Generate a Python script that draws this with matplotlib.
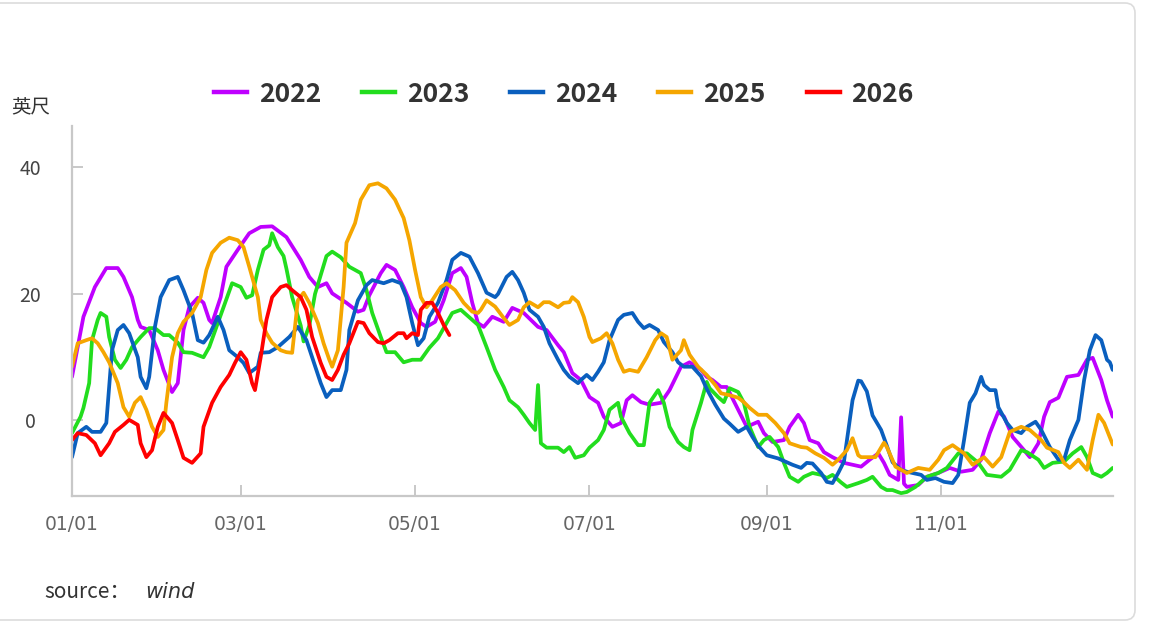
import matplotlib
matplotlib.use("Agg")
import matplotlib.pyplot as plt
from matplotlib.patches import FancyBboxPatch
from matplotlib.lines import Line2D

plt.rcParams['font.family'] = ['Noto Sans CJK SC', 'DejaVu Sans']

# ---- data (day of year, feet) ----
days_2022 = [0,4,8,12,16,18,21,23,24,27,30,32,35,37,39,41,44,46,48,49,52,54,58,62,66,70,75,80,83,86,89,91,96,100,102,104,108,110,113,116,119,122,124,127,130,133,136,138,140,142,144,147,151,154,158,163,166,170,172,175,178,181,184,186,189,192,194,196,199,202,206,209,213,216,220,222,224,227,229,233,236,240,242,245,249,251,254,256,258,261,263,266,270,273,276,279,282,284,286,289,290,291,292,296,299,303,307,311,315,318,321,324,326,329,333,335,338,340,342,345,348,352,355,357,360,362,364]
vals_2022 = [6.9,16.4,21.1,24.1,24.1,22.7,19.5,15.9,14.8,14.3,11.1,8.0,4.5,5.9,14.3,17.9,19.4,18.6,15.9,15.4,19.5,24.3,27.0,29.6,30.6,30.7,29.0,25.4,22.7,21.1,21.7,20.1,18.6,17.2,17.5,19.8,23.3,24.6,23.8,21.1,17.9,15.4,14.8,15.6,19.0,23.3,24.1,22.7,18.6,15.4,14.8,16.4,15.6,17.8,17.0,14.8,14.3,11.9,10.8,7.5,6.4,3.7,2.8,0.6,-1.0,-0.4,3.2,4.0,2.9,2.5,2.8,4.8,8.5,9.2,8.0,6.9,6.4,5.3,5.3,1.7,-1.0,-0.2,-2.0,-3.4,-3.1,-1.0,0.9,-0.4,-3.1,-3.6,-5.0,-5.8,-6.7,-7.0,-7.3,-6.2,-5.2,-6.7,-8.6,-9.4,0.5,-10.0,-10.5,-10.2,-8.9,-8.3,-7.5,-8.1,-7.8,-6.2,-2.0,1.4,0.6,-2.6,-4.7,-5.8,-3.6,0.6,2.9,3.6,6.9,7.2,9.6,9.9,6.4,3.2,0.6]

days_2023 = [0,3,4,6,7,9,10,12,13,15,17,19,21,24,27,29,32,34,37,39,42,46,48,51,53,56,59,61,63,65,67,69,70,72,74,75,77,80,81,83,85,87,89,91,94,97,101,103,105,108,110,113,116,119,122,125,128,131,133,136,138,142,145,148,151,153,156,158,160,162,163,164,166,170,172,174,176,179,181,184,186,188,191,192,195,198,200,202,205,207,209,212,214,216,217,220,222,223,226,228,230,233,235,237,240,242,244,247,249,251,254,256,259,262,264,266,269,271,275,278,280,283,285,287,290,292,295,299,303,306,310,313,317,320,325,328,332,334,338,340,343,347,350,353,355,357,360,362,364]
vals_2023 = [-2.0,0.6,2.0,5.9,12.7,15.9,17.0,16.4,13.2,9.6,8.3,9.6,11.6,13.2,14.6,14.6,13.5,13.5,12.3,10.8,10.7,10.0,11.6,15.4,17.9,21.7,21.1,19.4,19.8,23.8,27.0,27.7,29.6,27.4,26.0,24.0,19.5,15.0,12.5,15.0,20.0,23.0,26.0,26.7,25.8,24.3,23.3,20.6,17.0,13.2,10.8,10.8,9.2,9.6,9.6,11.5,13.0,15.4,17.0,17.5,16.7,15.1,11.6,8.0,5.3,3.2,2.1,0.9,-0.4,-1.5,5.6,-3.6,-4.3,-4.3,-5.0,-4.2,-5.9,-5.5,-4.3,-3.1,-1.5,1.7,2.8,0.6,-2.0,-3.9,-3.9,2.8,4.8,2.8,-1.0,-3.4,-4.2,-4.7,-1.5,2.8,6.1,5.1,3.7,2.9,5.1,4.5,2.8,-1.0,-4.2,-3.1,-2.6,-4.2,-6.7,-8.9,-9.7,-8.9,-8.3,-8.6,-9.1,-8.6,-9.8,-10.5,-9.9,-9.4,-8.9,-10.5,-11.0,-11.0,-11.5,-11.3,-10.5,-8.9,-8.3,-7.5,-5.2,-5.2,-6.7,-8.6,-8.9,-7.8,-4.7,-5.0,-6.2,-7.5,-6.7,-6.5,-5.2,-4.2,-5.8,-8.3,-8.9,-8.3,-7.5]

days_2024 = [0,2,5,7,10,12,13,14,16,18,20,23,24,26,27,29,31,34,37,39,42,44,46,48,51,53,55,58,60,62,65,66,69,72,74,76,79,82,84,87,89,91,94,96,97,100,103,105,109,112,115,117,119,121,123,125,128,131,133,136,139,142,145,148,149,152,154,156,158,160,163,165,167,170,172,174,177,178,180,182,184,186,188,191,193,196,198,200,202,205,207,210,212,214,217,220,222,225,228,230,233,236,238,240,243,247,250,252,255,257,259,262,264,266,268,270,271,273,275,276,278,280,283,285,287,290,292,294,297,299,302,305,308,310,312,314,316,318,319,321,323,324,327,329,332,334,337,339,342,345,347,349,352,354,356,358,360,362,363,364]
vals_2024 = [-5.8,-2.0,-1.0,-1.8,-1.8,-0.4,5.3,11.1,14.3,15.1,13.8,10.0,6.9,5.1,6.9,14.8,19.5,22.2,22.7,20.6,17.0,12.7,12.3,13.5,16.4,14.3,11.1,10.0,9.1,7.5,8.5,10.7,10.8,11.6,12.4,13.2,14.8,12.7,10.0,5.9,3.7,4.8,4.8,8.0,14.3,19.0,21.4,22.2,21.7,22.2,21.7,19.5,15.4,11.9,13.0,16.4,18.6,22.2,25.4,26.5,25.9,23.3,20.2,19.5,20.0,22.7,23.5,22.2,20.2,17.5,16.4,14.8,12.2,9.6,8.0,6.9,5.9,6.4,7.2,6.4,7.7,9.2,12.7,15.9,16.7,17.0,15.6,14.6,15.1,14.3,12.4,10.8,9.2,8.5,8.5,7.0,5.0,2.5,0.3,-0.5,-1.8,-1.0,-2.6,-4.0,-5.5,-6.0,-6.6,-7.0,-7.5,-6.7,-6.8,-8.3,-9.7,-9.9,-8.3,-6.5,-3.3,3.2,6.3,6.2,4.6,0.8,-1.5,-4.0,-6.6,-7.8,-8.1,-8.3,-8.6,-9.4,-9.1,-9.7,-9.9,-8.6,-3.1,2.8,4.3,6.9,5.6,4.8,4.8,2.1,-0.4,-1.5,-2.0,-1.0,-0.2,-1.5,-4.2,-6.2,-6.2,-3.1,0.1,6.4,11.1,13.5,12.7,9.6,9.2,8.0]

days_2025 = [0,2,5,7,9,11,13,16,18,20,22,24,26,28,30,32,33,35,37,39,42,45,47,49,52,55,58,60,62,65,66,68,70,73,75,77,79,81,83,86,88,90,91,93,95,96,99,101,104,107,110,113,116,118,120,122,124,126,129,131,134,137,140,142,143,145,148,151,153,156,158,160,163,165,167,170,172,174,175,177,179,181,182,185,187,189,191,193,195,198,201,204,206,208,210,213,214,216,219,222,225,227,230,233,235,237,240,243,246,249,251,255,257,260,263,266,268,271,273,275,276,278,281,284,285,288,292,296,300,303,305,308,312,315,319,322,325,328,332,335,339,341,345,347,349,352,355,357,359,361,364]
vals_2025 = [8.5,12.2,12.7,13.0,12.2,10.8,9.2,5.9,2.1,0.6,2.8,3.7,1.7,-1.0,-2.6,-1.5,2.8,10.0,13.8,15.6,17.0,19.5,23.8,26.5,28.1,28.9,28.5,27.4,24.3,19.5,15.9,13.8,12.3,11.1,10.8,10.7,19.0,20.2,18.6,15.4,12.2,9.6,8.5,11.1,21.1,28.1,31.2,34.9,37.2,37.5,36.7,34.9,32.0,28.5,23.8,19.5,17.9,19.0,21.1,21.7,20.6,18.6,17.2,17.0,17.5,19.0,18.0,16.2,15.1,15.9,17.9,18.7,17.9,18.7,18.7,17.9,18.6,18.7,19.5,18.7,16.4,13.2,12.4,13.0,13.8,12.2,9.6,7.7,8.0,7.7,10.0,12.7,13.8,13.2,9.6,11.1,12.7,10.4,8.5,7.2,5.6,4.3,4.0,3.6,2.9,2.0,0.9,0.9,-0.4,-2.0,-3.6,-4.2,-4.3,-5.2,-5.9,-7.0,-6.2,-4.7,-2.8,-5.5,-5.8,-5.8,-5.8,-3.5,-4.2,-7.3,-8.3,-7.5,-7.8,-6.2,-4.7,-3.9,-5.2,-7.0,-5.8,-7.3,-5.8,-1.8,-1.0,-1.5,-3.1,-4.3,-5.0,-6.7,-7.5,-6.2,-7.8,-3.1,0.9,-0.4,-3.8]

days_2026 = [0,2,5,8,10,13,15,18,20,23,24,26,28,30,32,35,37,39,42,45,46,49,52,55,57,59,61,63,64,66,68,70,73,75,77,80,82,84,87,89,91,93,95,97,100,102,104,107,109,111,114,116,117,119,121,122,124,126,128,130,132]
vals_2026 = [-3.1,-2.0,-2.3,-3.6,-5.5,-3.6,-1.8,-0.7,0.1,-0.7,-3.6,-5.8,-4.7,-1.0,1.2,-0.4,-3.1,-5.9,-6.7,-5.2,-1.0,2.8,5.3,7.2,9.1,10.8,9.6,5.9,4.8,10.0,15.9,19.5,21.1,21.4,20.6,19.5,17.5,13.2,9.1,6.9,6.4,8.0,10.4,12.2,15.6,15.4,13.8,12.4,12.2,12.7,13.8,13.8,13.0,13.8,13.5,17.5,18.6,18.6,17.0,15.1,13.5]

series = [
    ("2022", days_2022, vals_2022, "#BF00FF"),
    ("2023", days_2023, vals_2023, "#22DD1E"),
    ("2024", days_2024, vals_2024, "#0A5FBE"),
    ("2025", days_2025, vals_2025, "#F5A600"),
    ("2026", days_2026, vals_2026, "#FF0000"),
]

tick_days = [0, 59, 120, 181, 243, 304]
tick_labels = ["01/01", "03/01", "05/01", "07/01", "09/01", "11/01"]
y_ticks = [0, 20, 40]

# ---- figure ----
W, H = 1152, 623
fig = plt.figure(figsize=(W / 100, H / 100), dpi=100)
fig.patch.set_facecolor("white")

# card border
card = FancyBboxPatch((-0.3, 0.03), 11.65, 6.17,
                      boxstyle="round,pad=0,rounding_size=0.1",
                      transform=fig.dpi_scale_trans, facecolor="none",
                      edgecolor="#dcdcdc", linewidth=1.2)
fig.patches.append(card)

ax = fig.add_axes([72 / W, 1 - 496 / H, (1113 - 72) / W, (496 - 126) / H])
for name, d, v, c in series:
    ax.plot(d, v, color=c, linewidth=2.7, solid_joinstyle="round",
            solid_capstyle="round", label=name)

ax.set_xlim(0, 364.1)
ax.set_ylim(-11.94, 46.56)
for s in ["top", "right"]:
    ax.spines[s].set_visible(False)
for s in ["left", "bottom"]:
    ax.spines[s].set_color("#c8c8c8")
    ax.spines[s].set_linewidth(1.6)

ax.set_xticks(tick_days)
ax.set_xticklabels(tick_labels)
ax.set_yticks(y_ticks)
ax.set_yticklabels([str(t) for t in y_ticks])
ax.tick_params(axis="both", direction="in", length=8, width=1.4, color="#c8c8c8")
ax.tick_params(axis="x", pad=14, labelsize=14, labelcolor="#666666")
ax.tick_params(axis="y", pad=30, labelsize=14, labelcolor="#444444")
for lbl in ax.get_yticklabels():
    lbl.set_horizontalalignment("center")
for lbl in ax.get_xticklabels():
    lbl.set_fontfamily(["DejaVu Sans"])
    lbl.set_fontsize(13.5)

fig.text(31 / W, 1 - 108 / H, "英尺", ha="center", va="center",
         fontsize=14, color="#333333")

handles = [Line2D([], [], color=c, linewidth=3.2) for _, _, _, c in series]
leg = fig.legend(handles, [s[0] for s in series], loc="center",
                 bbox_to_anchor=(564 / W, 1 - 94 / H), ncol=5, frameon=False,
                 prop={"size": 19, "weight": "bold"}, handlelength=1.25,
                 handletextpad=0.45, columnspacing=1.55)
for t in leg.get_texts():
    t.set_color("#333333")

fig.text(44 / W, 1 - 592 / H, "source：", ha="left", va="center",
         fontsize=15, color="#333333")
fig.text(145 / W, 1 - 592 / H, "wind", ha="left", va="center",
         fontsize=15, color="#333333", style="italic", family=["DejaVu Sans"])

fig.savefig("out.png", dpi=100, facecolor="white")
